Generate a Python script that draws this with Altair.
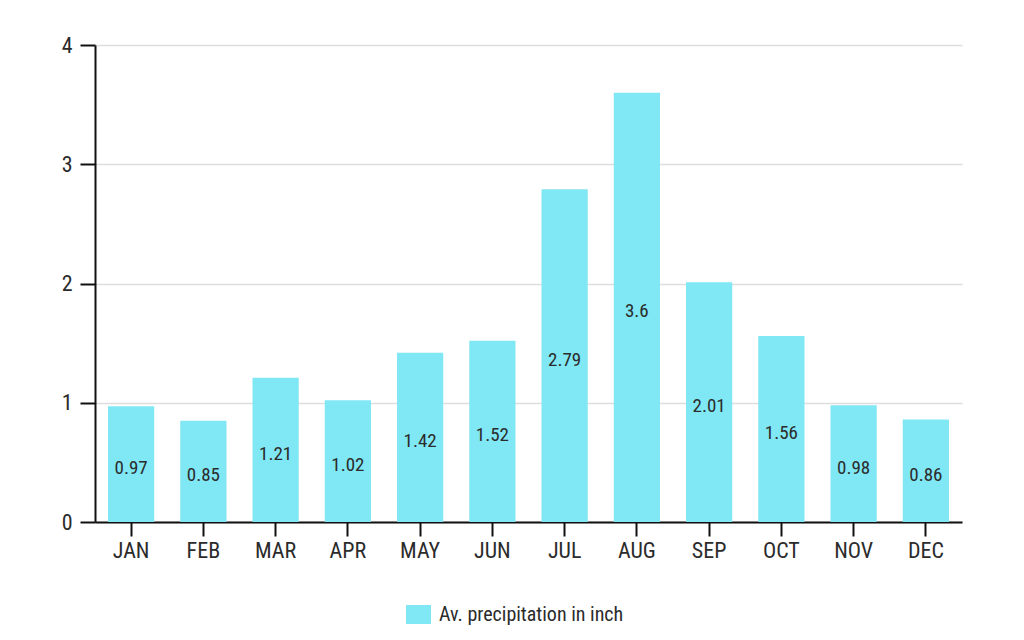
import altair as alt
import pandas as pd

months = ["JAN", "FEB", "MAR", "APR", "MAY", "JUN", "JUL", "AUG", "SEP", "OCT", "NOV", "DEC"]
precip = [0.97, 0.85, 1.21, 1.02, 1.42, 1.52, 2.79, 3.6, 2.01, 1.56, 0.98, 0.86]
series_name = "Av. precipitation in inch"

df = pd.DataFrame({"month": months, "value": precip, "series": [series_name] * len(months)})

FONT = "Roboto Condensed, Liberation Sans Narrow, Roboto"
COLOR = "#80E7F4"
TEXT = "#2b2b2b"

base = alt.Chart(df).encode(
    x=alt.X("month:N", sort=months, title=None,
            scale=alt.Scale(paddingInner=0.36, paddingOuter=0.18),
            axis=alt.Axis(labelAngle=0, labelFontSize=22, labelColor=TEXT,
                          tickSize=14, tickColor="#111", tickWidth=2,
                          domainColor="#111", domainWidth=2, labelPadding=4,
                          grid=False)),
)

bars = base.mark_bar(color=COLOR).encode(
    y=alt.Y("value:Q", title=None,
            scale=alt.Scale(domain=[0, 4]),
            axis=alt.Axis(values=[0, 1, 2, 3, 4], format="d", labelFontSize=22,
                          labelColor=TEXT, tickSize=15, tickColor="#111", tickWidth=2,
                          domainColor="#111", domainWidth=2, labelPadding=8,
                          gridColor="#dddddd", gridWidth=1.5)),
    fill=alt.Fill("series:N", scale=alt.Scale(range=[COLOR]),
                  legend=alt.Legend(title=None, orient="none", legendX=311, legendY=557,
                                    symbolType="M-1,-0.76H1V0.76H-1Z", symbolSize=625,
                                    symbolStrokeWidth=0, labelFontSize=20, labelColor=TEXT,
                                    labelLimit=400, labelOffset=8)),
)

labels = base.mark_text(fontSize=19, color=TEXT, baseline="middle", dy=4).encode(
    y=alt.Y("mid:Q"),
    text=alt.Text("value:Q"),
).transform_calculate(mid="datum.value / 2")

chart = (bars + labels).properties(
    width=867, height=477,
    padding={"left": 87, "top": 37, "right": 54, "bottom": 110},
    autosize=alt.AutoSizeParams(type="none"),
).configure(font=FONT).configure_view(stroke=None)

chart.save("out.html", embed_options={"renderer": "svg", "actions": False})
